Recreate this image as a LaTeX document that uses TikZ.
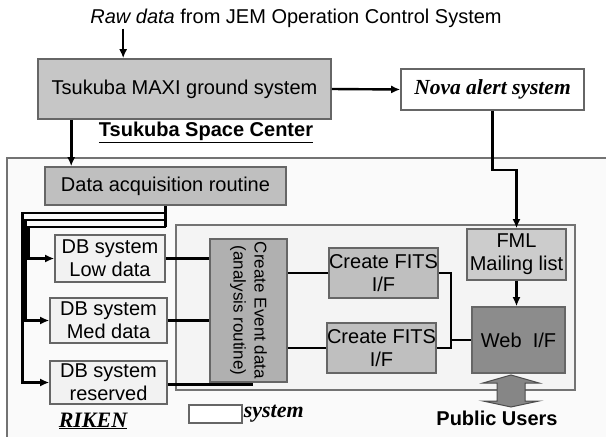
\documentclass[tikz,border=0pt]{standalone}
\usepackage{fontspec}
\setmainfont{Liberation Sans}
\newfontfamily\romfont{Liberation Serif}
\usetikzlibrary{arrows.meta}

\begin{document}
\begin{tikzpicture}[x=1pt,y=-1pt,>={Latex[length=9pt,width=8pt]},
   txt/.style={font=\fontsize{20}{23}\selectfont,inner sep=1pt,align=center},
   box/.style={txt,draw=black!60,line width=1.6pt,inner sep=0pt},
   conn/.style={line width=2.4pt},
   ital/.style={font=\fontsize{22}{24}\romfont\bfseries\itshape,inner sep=1pt}]
   \clip (0,0) rectangle (606,437);
   \fill[white] (0,0) rectangle (606,437);

   % RIKEN area and the system frame
   \draw[black!55,line width=1.2pt,fill=gray!4] (7,158) rectangle (620,450);
   \draw[black!55,line width=1.8pt,fill=gray!9] (176,225) rectangle (575,390);

   % Tsukuba side
   \node[txt] (raw) at (296,18) {\textit{Raw data} from JEM Operation Control System};
   \node[box,fill=gray!45,minimum width=293,minimum height=60] (tsukuba) at (184.5,89) {Tsukuba MAXI ground system};
   \node[box,fill=white,minimum width=183,minimum height=41,font=\fontsize{21.5}{24}\romfont\bfseries\itshape] (nova) at (492.5,89.5) {Nova alert system};
   \node[txt,font=\fontsize{20}{23}\selectfont\bfseries] (tsc) at (206,132) {\underline{Tsukuba Space Center}};

   % RIKEN side
   \node[box,fill=gray!50,minimum width=241,minimum height=38] (dataacq) at (165.5,186) {Data acquisition routine};
   \node[box,fill=gray!10,minimum width=110,minimum height=47] (dblow) at (110,258.5) {DB system\\Low data};
   \node[box,fill=gray!10,minimum width=117,minimum height=45] (dbmed) at (108.5,320.5) {DB system\\Med data};
   \node[box,fill=gray!10,minimum width=117,minimum height=43] (dbres) at (108.5,382.5) {DB system\\reserved};
   \node[box,fill=gray!62,minimum width=77,minimum height=143] (event) at (248.5,310.5) {};
   \node[txt,rotate=-90,font=\fontsize{17}{21}\selectfont] (eventtxt) at (event) {Create Event data\\(analysis routine)};
   \node[box,fill=gray!50,minimum width=97,minimum height=50] (fits1) at (383.5,273) {Create FITS\\I/F};
   \node[box,fill=gray!50,minimum width=93,minimum height=50] (fits2) at (381.5,348) {Create FITS\\I/F};
   \node[box,fill=gray!40,minimum width=99,minimum height=51] (fml) at (516.5,254.5) {FML\\Mailing list};
   \node[box,fill=gray!90,minimum width=93,minimum height=66] (web) at (518.5,340) {Web\ \ I/F};
   \node[ital] (riken) at (93,421) {\underline{RIKEN}};
   \node[box,fill=white,line width=1.2pt,minimum width=53,minimum height=18] (legend) at (215.5,414) {};
   \node[ital,anchor=west] (legtxt) at (legend.east) {system};
   \node[txt,font=\fontsize{20}{23}\selectfont\bfseries] (pub) at (497,418) {Public Users};
   \coordinate (pu) at (511,391);
   \coordinate (merge) at ([xshift=-20pt]web.west);

   \draw[conn,->] ([xshift=34pt]raw.south west) -- ([xshift=34pt]raw.south west |- tsukuba.north);
   \draw[conn,->] (tsukuba.east) -- (nova.west);
   \draw[line width=3.4pt,->] ([xshift=34pt]tsukuba.south west) -- ([xshift=34pt]tsukuba.south west |- dataacq.north);
   \draw[conn,->] (nova.south) -- ++(0,59) -| (fml.north);
   \draw[conn,->] (fml.south) -- (fml.south |- web.north);

   \draw[conn] (dataacq.south) -- ++(0,21);
   \draw[conn,->] ([yshift=-7pt]dataacq.south) -- ++(-143,0) |- (dbres.west);
   \draw[conn,->] ([yshift=-14pt]dataacq.south) -- ++(-140,0) |- (dbmed.west);
   \draw[conn,->] ([yshift=-21pt]dataacq.south) -- ++(-137,0) |- (dblow.west);

   \draw[conn] (dblow.east) -- (dblow.east -| event.west);
   \draw[conn] (dbmed.east) -- (dbmed.east -| event.west);
   \draw[conn] ([yshift=-2pt]dbres.east) -- ([yshift=-2pt,xshift=4pt]dbres.east -| event.south);
   \draw[conn] (fits1.west -| event.east) -- (fits1.west);
   \draw[conn] (fits2.west -| event.east) -- (fits2.west);
   \draw[conn] (fits1.east) -| (merge |- fits2.east) -- (fits2.east);
   \draw[conn] (merge) -- (web.west);

   % users <-> web
   \filldraw[fill=gray!95,draw=black!70,line width=1pt] (pu) ++(0,-16) -- ++(28,8) -- ++(-14,0) -- ++(0,18)
      -- ++(14,0) -- ++(-28,6) -- ++(-28,-6) -- ++(14,0) -- ++(0,-18) -- ++(-14,0) -- cycle;
\end{tikzpicture}
\end{document}
